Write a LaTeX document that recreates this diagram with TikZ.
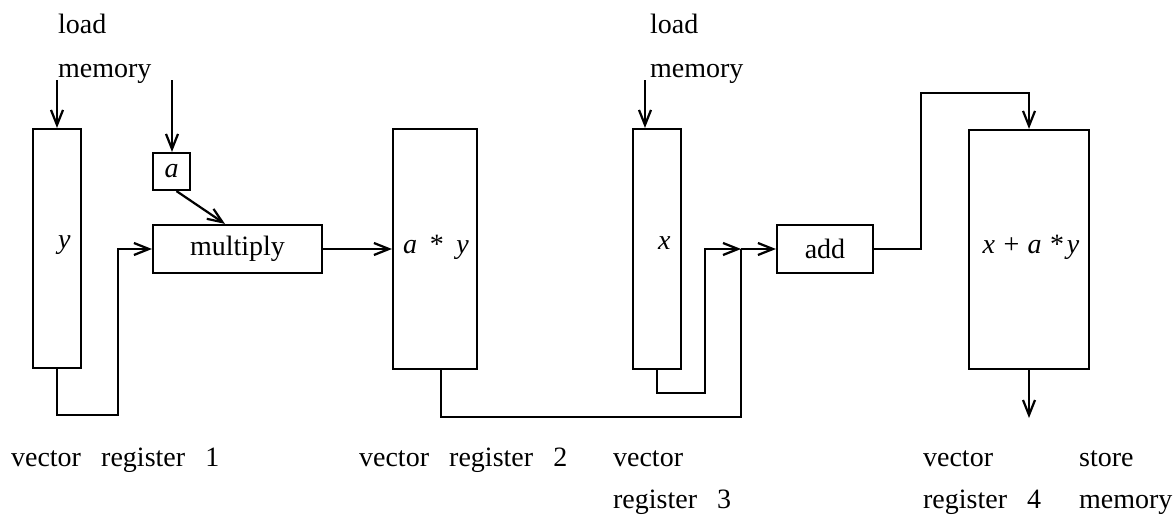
\documentclass[tikz,border=0pt]{standalone}
\usepackage{fontspec}
\setmainfont{Liberation Serif}
\usetikzlibrary{arrows.meta}
\begin{document}
\begin{tikzpicture}[x=1pt,y=-1pt,line width=2.2pt,
  >={Straight Barb[length=15pt,width=12pt,line width=2.2pt]},
  font=\fontsize{28}{34}\selectfont,
  reg/.style n args={2}{draw,rectangle,inner sep=0pt,minimum width=#1,minimum height=#2},
  txt/.style={anchor=base west,inner sep=0pt},
  lbl/.style={inner sep=0pt}]
\useasboundingbox (0,0) rectangle (1175,514);
% boxes
\node[reg={48pt}{239pt}] (r1) at (57,248.5) {};
\node[reg={37pt}{37pt}] (a) at (171.5,171.5) {\itshape a};
\node[reg={169pt}{48pt}] (mul) at (237.5,249) {multiply};
\node[reg={84pt}{240pt}] (r2) at (435,249) {};
\node[reg={48pt}{240pt}] (r3) at (657,249) {};
\node[reg={96pt}{48pt}] (add) at (825,249) {add};
\node[reg={120pt}{239pt}] (r4) at (1029,249.5) {};
% inner labels
\node[lbl,anchor=west] (ly) at (57,245) {\itshape y};
\node[lbl] (lay) at (436,247) {\itshape a\hspace{0.45em}\upshape*\hspace{0.45em}\itshape y};
\node[lbl,anchor=west] (lx) at (657,243) {\itshape x};
\node[lbl] (lsum) at (1031,247) {\itshape x\upshape\hspace{0.3em}+\hspace{0.3em}\itshape a\upshape\hspace{0.3em}*\hspace{0.1em}\itshape y};
% texts
\node[txt] (t1) at (57,33) {load};
\node[txt] (t2) at (57,77) {memory};
\node[txt] (t3) at (649,33) {load};
\node[txt] (t4) at (649,77) {memory};
\node[txt] (b1) at (10,466) {vector\hspace{0.72em}register\hspace{0.72em}1};
\node[txt] (b2) at (358,466) {vector\hspace{0.72em}register\hspace{0.72em}2};
\node[txt] (b3) at (612,466) {vector};
\node[txt] (b4) at (612,508) {register\hspace{0.72em}3};
\node[txt] (b5) at (922,466) {vector};
\node[txt] (b6) at (922,508) {register\hspace{0.72em}4};
\node[txt] (b7) at (1078,466) {store};
\node[txt] (b8) at (1078,508) {memory};
% coordinates
\coordinate (in1) at (57,80);
\coordinate (in2) at (172,80);
\coordinate (in3) at (645,80);
\coordinate (r2o) at (441,369);
\coordinate (j) at (741,249);
\coordinate (out) at (1029,418);
% connectors
\draw[->] (in1) -- (r1.north);
\draw[->] (in2) -- (a.north -| in2);
\draw[->] (in3) -- (r3.north -| in3);
\draw[->] ([xshift=5pt]a.south) -- ([xshift=-12.5pt]mul.north);
\draw[->] (r1.south) -- (57,415) -- (118,415) -- (118,249) -- (mul.west);
\draw[->] (mul.east) -- (r2.west);
\draw[->] (r3.south) -- (657,393) -- (705,393) -- (705,249) -- (j);
\draw (r2o) -- (441,417) -- (741,417) -- (j);
\draw[->] (j) -- (add.west);
\draw[->] (add.east) -- (921,249) -- (921,93) -- (1029,93) -- (r4.north);
\draw[->] (r4.south) -- (out);
\end{tikzpicture}
\end{document}
